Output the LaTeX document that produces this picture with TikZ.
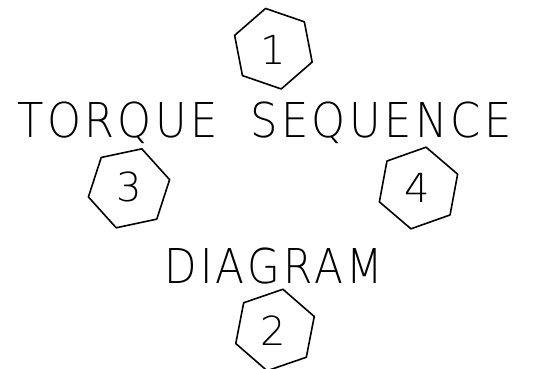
\documentclass[tikz,border=0pt]{standalone}
\usepackage{fontspec}
\newfontfamily\plotfont{DejaVu Sans}[UprightFont={* ExtraLight}, LetterSpace=8]
\newfontfamily\digitfont{DejaVu Sans}[UprightFont={* ExtraLight}]
\begin{document}
\begin{tikzpicture}[x=1pt,y=-1pt,
  hex/.style={line width=1.6pt, line join=round},
  word/.style={font=\plotfont\fontsize{48}{48}\selectfont, inner sep=0pt, anchor=base west},
  digit/.style={font=\digitfont\fontsize{40}{40}\selectfont, inner sep=0pt}]
\useasboundingbox (0,0) rectangle (535,368);
\node[word] (t1) at (17,137) {\scalebox{0.9}[1]{TORQUE\hspace{36pt}SEQUENCE}};
\node[word] (t2) at (164,283) {\scalebox{0.88}[1]{DIAGRAM}};
\foreach \nm/\dx/\dy/\cx/\cy/\rr/\rot/\d in {
  n1/273.3/49.5/273.4/48.7/41/19/1,
  n3/129.7/186.7/129/188.3/41.5/48/3,
  n4/417.3/188.3/418.5/188/41.5/40.5/4,
  n2/273.7/331/275/330/41.5/41/2}{
  \node[digit] (\nm) at (\dx,\dy) {\d};
  \coordinate (\nm c) at (\cx,\cy);
  \draw[hex, shift={(\nm c)}] (\rot:\rr) -- (\rot+60:\rr) -- (\rot+120:\rr) -- (\rot+180:\rr) -- (\rot+240:\rr) -- (\rot+300:\rr) -- cycle;
}
\end{tikzpicture}
\end{document}
